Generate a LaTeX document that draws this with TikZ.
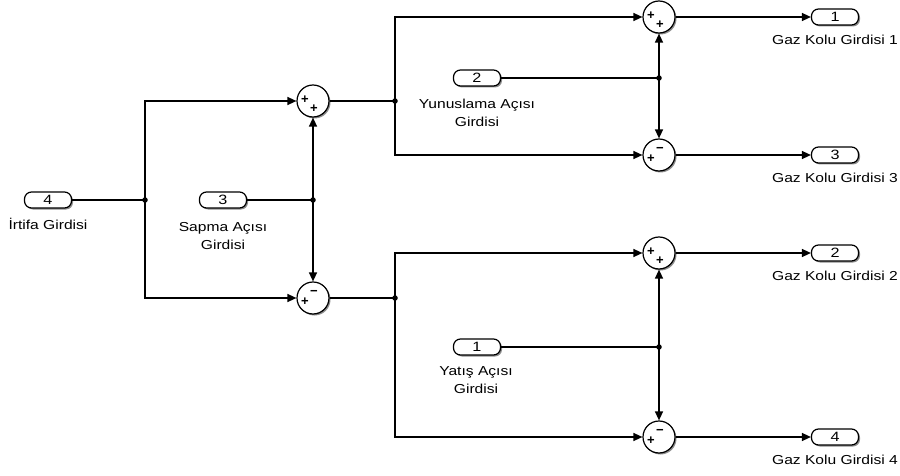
\documentclass[tikz,border=0pt]{standalone}
\usepackage{fontspec}
\setmainfont{Liberation Sans}
\newfontfamily\lblfont[FakeStretch=1.2]{Liberation Sans}
\usetikzlibrary{arrows.meta,shadows}
\begin{document}
\begin{tikzpicture}[x=1pt,y=-1pt,
  wire/.style={line width=1.4pt},
  sig/.style={wire,-{Triangle[length=9pt,width=8pt]}},
  sumblk/.style={circle,draw,line width=1.2pt,fill=white,minimum size=32pt,inner sep=0pt,
    drop shadow={shadow xshift=1.5pt,shadow yshift=-1.5pt,opacity=0.45,fill=black}},
  port/.style={rounded corners=7pt,draw,line width=1.2pt,fill=white,minimum width=47pt,minimum height=16pt,inner sep=0pt,
    font=\lblfont\fontsize{13.5}{14}\selectfont,
    drop shadow={shadow xshift=1.5pt,shadow yshift=-1.5pt,opacity=0.45,fill=black}},
  lbl/.style={font=\lblfont\fontsize{13}{18}\selectfont,align=center,inner sep=0pt},
  sgn/.style={font=\fontsize{13}{13}\selectfont\bfseries,inner sep=0pt},
  dot/.style={circle,fill=black,inner sep=0pt,minimum size=5.5pt}]
\useasboundingbox (0,0) rectangle (900,476);
% inports
\node[port] (in4) at (48,200) {4};
\node[lbl,anchor=north] (l4) at (48,218) {İrtifa Girdisi};
\node[port] (in3) at (223,200) {3};
\node[lbl,anchor=north] (l3) at (223,222) {Sapma Açısı\\Girdisi};
\node[port] (in2) at (477,78) {2};
\node[lbl,anchor=north] (l2) at (477,99) {Yunuslama Açısı\\Girdisi};
\node[port] (in1) at (477,347) {1};
\node[lbl,anchor=north] (l1) at (476,366) {Yatış Açısı\\Girdisi};
% sums
\node[sumblk] (s1) at (313,101) {};
\node[sumblk] (s2) at (313,298) {};
\node[sumblk] (s3) at (659,17) {};
\node[sumblk] (s4) at (659,155) {};
\node[sumblk] (s5) at (659,253) {};
\node[sumblk] (s6) at (659,437) {};
% signs
\foreach \s in {s1,s3,s5}{
  \node[sgn] at ([shift={(-8,-1)}]\s.center) {+};
  \node[sgn] at ([shift={(1,8)}]\s.center) {+};
}
\foreach \s in {s2,s4,s6}{
  \node[sgn] at ([shift={(-8,4)}]\s.center) {+};
  \node[sgn] at ([shift={(1,-5)}]\s.center) {−};
}
% outports
\node[port] (o1) at (835,17) {1};
\node[lbl,anchor=north] (lo1) at (835,35) {Gaz Kolu Girdisi 1};
\node[port] (o3) at (835,155) {3};
\node[lbl,anchor=north] (lo3) at (835,173) {Gaz Kolu Girdisi 3};
\node[port] (o2) at (835,253) {2};
\node[lbl,anchor=north] (lo2) at (835,271) {Gaz Kolu Girdisi 2};
\node[port] (o4) at (835,437) {4};
\node[lbl,anchor=north] (lo4) at (835,455) {Gaz Kolu Girdisi 4};
% junctions
\node[dot] (j4) at (145,200) {};
\node[dot] (j3) at (313,200) {};
\node[dot] (ja) at (395,101) {};
\node[dot] (jb) at (395,298) {};
\node[dot] (j2) at (659,78) {};
\node[dot] (j1) at (659,347) {};
% wires
\draw[wire] (in4) -- (j4.center);
\draw[sig] (j4.center) |- (s1);
\draw[sig] (j4.center) |- (s2);
\draw[wire] (in3) -- (j3.center);
\draw[sig] (j3.center) -- (s1);
\draw[sig] (j3.center) -- (s2);
\draw[wire] (s1) -- (ja.center);
\draw[sig] (ja.center) |- (s3);
\draw[sig] (ja.center) |- (s4);
\draw[wire] (s2) -- (jb.center);
\draw[sig] (jb.center) |- (s5);
\draw[sig] (jb.center) |- (s6);
\draw[wire] (in2) -- (j2.center);
\draw[sig] (j2.center) -- (s3);
\draw[sig] (j2.center) -- (s4);
\draw[wire] (in1) -- (j1.center);
\draw[sig] (j1.center) -- (s5);
\draw[sig] (j1.center) -- (s6);
\draw[sig] (s3) -- (o1);
\draw[sig] (s4) -- (o3);
\draw[sig] (s5) -- (o2);
\draw[sig] (s6) -- (o4);
\end{tikzpicture}
\end{document}
